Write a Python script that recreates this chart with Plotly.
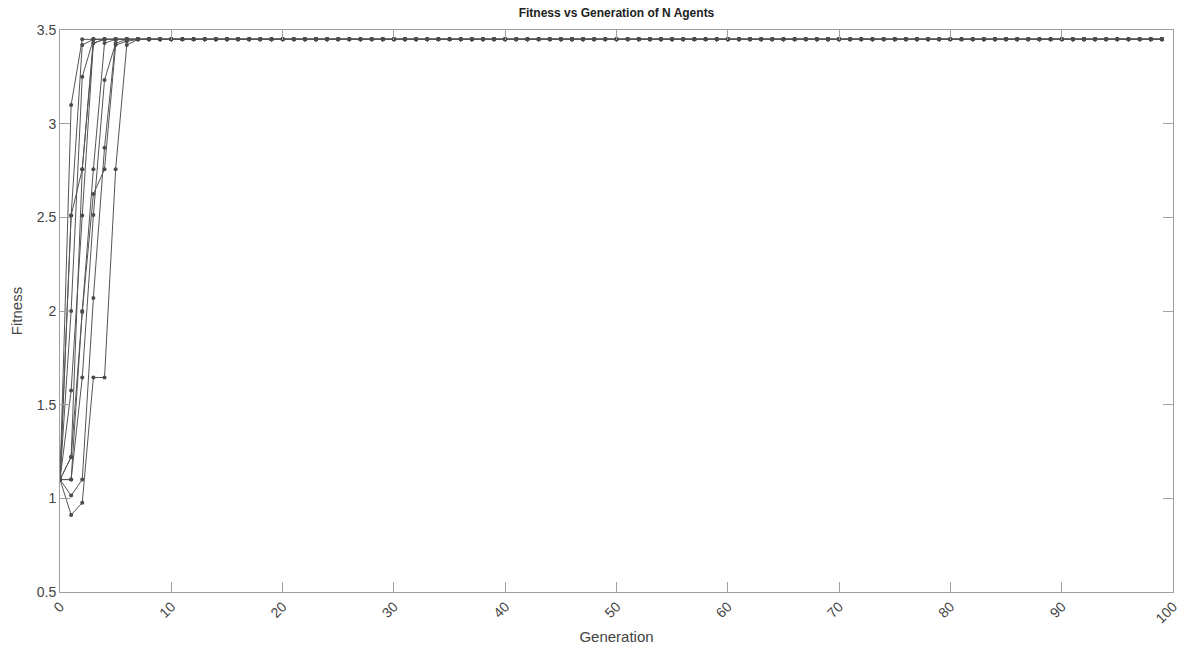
import plotly.graph_objects as go

N_GEN = 100
FINAL = 3.45

# Fitness trajectories of each agent for the first generations; afterwards they
# stay at the converged fitness value.
agent_1 = [1.1, 3.10, 3.45]
agent_2 = [1.1, 2.51, 3.42, 3.45]
agent_3 = [1.1, 2.00, 3.25, 3.45]
agent_4 = [1.1, 1.575, 2.51, 3.43, 3.45]
agent_5 = [1.1, 1.22, 2.757, 3.43, 3.45]
agent_6 = [1.1, 1.10, 2.00, 2.757, 3.43, 3.45]
agent_7 = [1.1, 1.015, 1.10, 2.07, 2.872, 3.45]
agent_8 = [1.1, 0.911, 0.977, 1.645, 1.645, 2.757, 3.42, 3.45]
agent_9 = [1.1, 1.10, 1.645, 2.512, 3.233, 3.43, 3.45]
agent_10 = [1.1, 2.51, 2.757, 3.45]
agent_11 = [1.1, 1.22, 1.995, 2.624, 2.757, 3.42, 3.44, 3.45]

agents = [agent_1, agent_2, agent_3, agent_4, agent_5, agent_6,
          agent_7, agent_8, agent_9, agent_10, agent_11]

generations = list(range(N_GEN))

fig = go.Figure()
for early in agents:
    fitness = early + [FINAL] * (N_GEN - len(early))
    fig.add_trace(go.Scatter(
        x=generations, y=fitness, mode="lines+markers",
        line=dict(color="rgb(85,85,85)", width=1),
        marker=dict(size=4, color="rgb(75,75,75)"),
        showlegend=False, hoverinfo="x+y",
    ))

axis_common = dict(
    showline=True, linecolor="#a0a0a0", linewidth=1, mirror="allticks",
    ticks="inside", ticklen=10, tickcolor="#a0a0a0", showgrid=False,
    zeroline=False, tickfont=dict(size=14, color="#444444"),
)

fig.update_layout(
    width=1192, height=655,
    margin=dict(l=60, r=16, t=30, b=60),
    paper_bgcolor="white", plot_bgcolor="white",
    font=dict(family="Liberation Sans, Arial, sans-serif", color="#444444"),
    title=dict(text="<b>Fitness vs Generation of N Agents</b>",
               x=0.5, xref="paper", y=1, yref="paper", yanchor="bottom",
               pad=dict(b=13), font=dict(size=12, color="#222222")),
    xaxis=dict(range=[0, 100], tickmode="linear", tick0=0, dtick=10,
               tickangle=-45,
               title=dict(text="Generation", font=dict(size=15), standoff=6),
               **axis_common),
    yaxis=dict(range=[0.5, 3.5], tickmode="linear", tick0=0.5, dtick=0.5,
               title=dict(text="Fitness", font=dict(size=15), standoff=10),
               **axis_common),
)

fig.write_html("out.html")
